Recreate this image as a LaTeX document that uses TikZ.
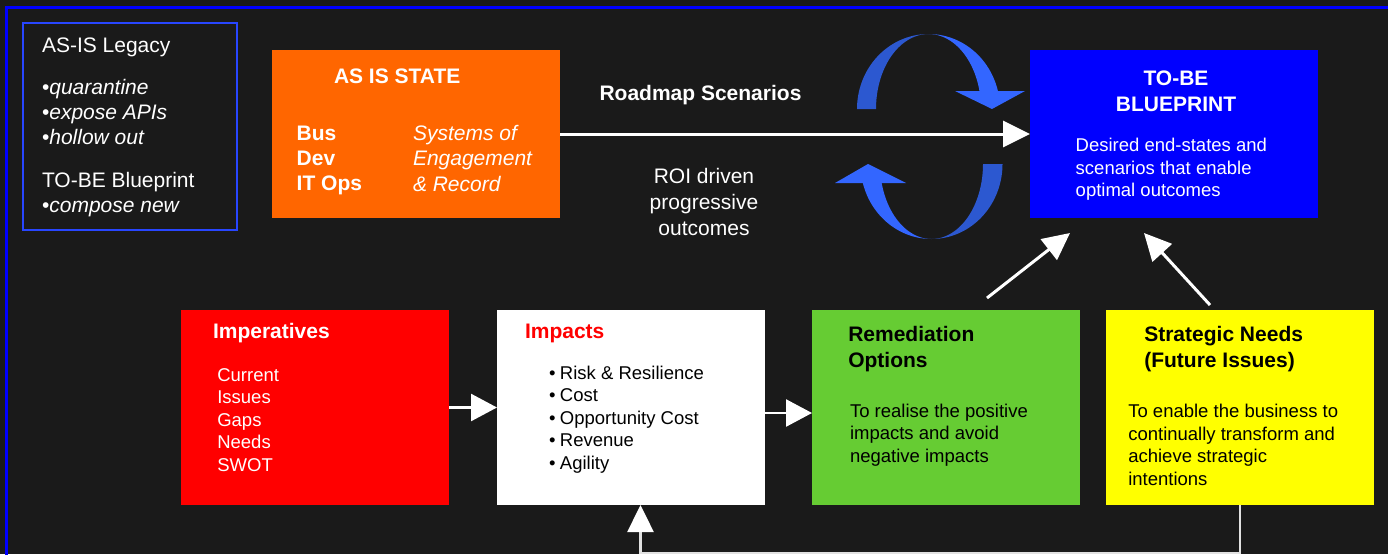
\documentclass[tikz,border=0pt]{standalone}
\usepackage{fontspec}
\setmainfont{Liberation Sans}
\usetikzlibrary{arrows.meta}
\definecolor{bgc}{RGB}{26,26,26}
\definecolor{frameblue}{RGB}{0,0,255}
\definecolor{legendblue}{RGB}{40,70,255}
\definecolor{orangec}{RGB}{255,102,0}
\definecolor{bluec}{RGB}{0,0,255}
\definecolor{redc}{RGB}{255,0,0}
\definecolor{greenc}{RGB}{102,204,51}
\definecolor{yellowc}{RGB}{255,255,0}
\definecolor{arcdark}{RGB}{44,88,208}
\definecolor{arcbright}{RGB}{51,102,255}
\definecolor{fbline}{RGB}{225,225,225}
\newcommand\fbig{\fontsize{21}{25.4}\selectfont}
\newcommand\fbody{\fontsize{18.5}{22.5}\selectfont}
\newcommand\Lstack[1]{\vtop{\let\\\cr\halign{##\hfil\cr#1\crcr}}}
\newcommand\Cstack[1]{\vtop{\let\\\cr\halign{\hfil##\hfil\cr#1\crcr}}}
\newcommand\bul{•\hspace{4.5pt}}
\begin{document}
\begin{tikzpicture}[x=1pt,y=-1pt,
  boxc/.style={inner sep=0pt, outer sep=0pt, anchor=north west, minimum width=268pt, minimum height=195pt},
  txt/.style={inner sep=0pt, outer sep=0pt, anchor=base west, text=white},
  arr/.style={draw=white, line width=3pt, -{Triangle[length=27pt,width=26pt]}},
  arrs/.style={draw=white, line width=2.5pt, -{Triangle[length=26pt,width=27pt]}}]
\useasboundingbox (0,0) rectangle (1388,554);
\fill[bgc] (0,0) rectangle (1388,554);
\begin{scope}
\clip (0,0) rectangle (1388,554);
\draw[frameblue, line width=2.8pt] (6.2,7.5) rectangle (1430,620);
\end{scope}

% legend
\node[draw=legendblue, line width=2pt, inner sep=0pt, anchor=north west, minimum width=214pt, minimum height=207pt] (legend) at (22,22) {};
\node[txt, font=\fbig] (lg1) at (42,52) {AS-IS Legacy};
\node[txt, font=\fbig] (lg2) at (42,94) {\Lstack{•\textit{quarantine}\\•\textit{expose APIs}\\•\textit{hollow out}}};
\node[txt, font=\fbig] (lg3) at (42,187) {\Lstack{TO-BE Blueprint\\•\textit{compose new}}};

% top boxes
\node[boxc, fill=orangec, minimum width=288pt, minimum height=168pt] (orange) at (272,50) {};
\node[txt, font=\fbig\bfseries] (as1) at (334,83.3) {AS IS STATE};
\node[txt, font=\fbig\bfseries] (as2) at (296.7,140) {\Lstack{Bus\\Dev\\IT Ops}};
\node[txt, font=\fbig\itshape] (as3) at (413,140.5) {\Lstack{Systems of\\Engagement\\\& Record}};

\node[boxc, fill=bluec, minimum width=288pt, minimum height=168pt] (blue) at (1030,50) {};
\node[txt, anchor=base, font=\fontsize{21}{26}\selectfont\bfseries] (tb1) at (1176,85) {\Cstack{TO-BE\\BLUEPRINT}};
\node[txt, font=\fbody] (tb2) at (1075.7,151.7) {\Lstack{Desired end-states and\\scenarios that enable\\optimal outcomes}};

\node[txt, anchor=base, font=\fbig\bfseries] (rm) at (700.5,100) {Roadmap Scenarios};
\node[txt, anchor=base, font=\fontsize{21}{26}\selectfont] (roi) at (704,183) {\Cstack{ROI driven\\progressive\\outcomes}};

\draw[arr] (orange.east) -- (blue.west);

% circular arrows
\fill[arcdark] plot[domain=180:270, samples=40] ({928.5+71.5*cos(\x)},{109+75*sin(\x)}) -- plot[domain=270:180, samples=40] ({928.5+52.5*cos(\x)},{109+75*sin(\x)}) -- cycle;
\fill[arcbright] plot[domain=270:346, samples=40] ({928.5+71.5*cos(\x)},{109+75*sin(\x)}) -- plot[domain=346:270, samples=40] ({928.5+52.5*cos(\x)},{109+75*sin(\x)}) -- cycle;
\fill[arcbright] (955,91) -- (1025,91) -- (992,109) -- cycle;
\fill[arcdark] plot[domain=0:90, samples=40] ({931.5+71*cos(\x)},{164+75*sin(\x)}) -- plot[domain=90:0, samples=40] ({931.5+51.5*cos(\x)},{164+75*sin(\x)}) -- cycle;
\fill[arcbright] plot[domain=90:165.3, samples=40] ({931.5+71*cos(\x)},{164+75*sin(\x)}) -- plot[domain=165.3:90, samples=40] ({931.5+51.5*cos(\x)},{164+75*sin(\x)}) -- cycle;
\fill[arcbright] (835,183) -- (906,183) -- (868,164) -- cycle;

% bottom boxes
\node[boxc, fill=redc] (red) at (181,310) {};
\node[txt, font=\fbig\bfseries] (im1) at (213,338) {Imperatives};
\node[txt, font=\fbody] (im2) at (217.3,381) {\Lstack{Current\\Issues\\Gaps\\Needs\\SWOT}};

\node[boxc, fill=white] (white) at (497,310) {};
\node[txt, text=redc, font=\fbig\bfseries] (ip1) at (525,338) {Impacts};
\node[txt, text=black, font=\fbody] (ip2) at (549,379) {\Lstack{\bul Risk \& Resilience\\\bul Cost\\\bul Opportunity Cost\\\bul Revenue\\\bul Agility}};

\node[boxc, fill=greenc] (green) at (812,310) {};
\node[txt, text=black, font=\fontsize{21}{26}\selectfont\bfseries] (ro1) at (848.3,341) {\Lstack{Remediation\\Options}};
\node[txt, text=black, font=\fbody] (ro2) at (850,417.3) {\Lstack{To realise the positive\\impacts and avoid\\negative impacts}};

\node[boxc, fill=yellowc] (yellow) at (1106,310) {};
\node[txt, text=black, font=\fontsize{21}{26}\selectfont\bfseries] (sn1) at (1144.3,341) {\Lstack{Strategic Needs\\(Future Issues)}};
\node[txt, text=black, font=\fbody] (sn2) at (1128.3,417.7) {\Lstack{To enable the business to\\continually transform and\\achieve strategic\\intentions}};

% connectors
\draw[arrs] (red.east) -- (white.west);
\draw[arrs] ([yshift=-5.5pt]white.east) -- ([yshift=-5.5pt]green.west);
\draw[arr] ([shift={(-93,-12)}]green.north east) -- ([shift={(40,15)}]blue.south west);
\draw[arr] ([shift={(104,-5)}]yellow.north west) -- ([shift={(114,15)}]blue.south west);
\draw[draw=fbline, line width=2.5pt, -{Triangle[length=27pt,width=26pt,color=white]}] (yellow.south) -- ++(0,48) -| ([xshift=9.5pt]white.south);
\end{tikzpicture}
\end{document}
